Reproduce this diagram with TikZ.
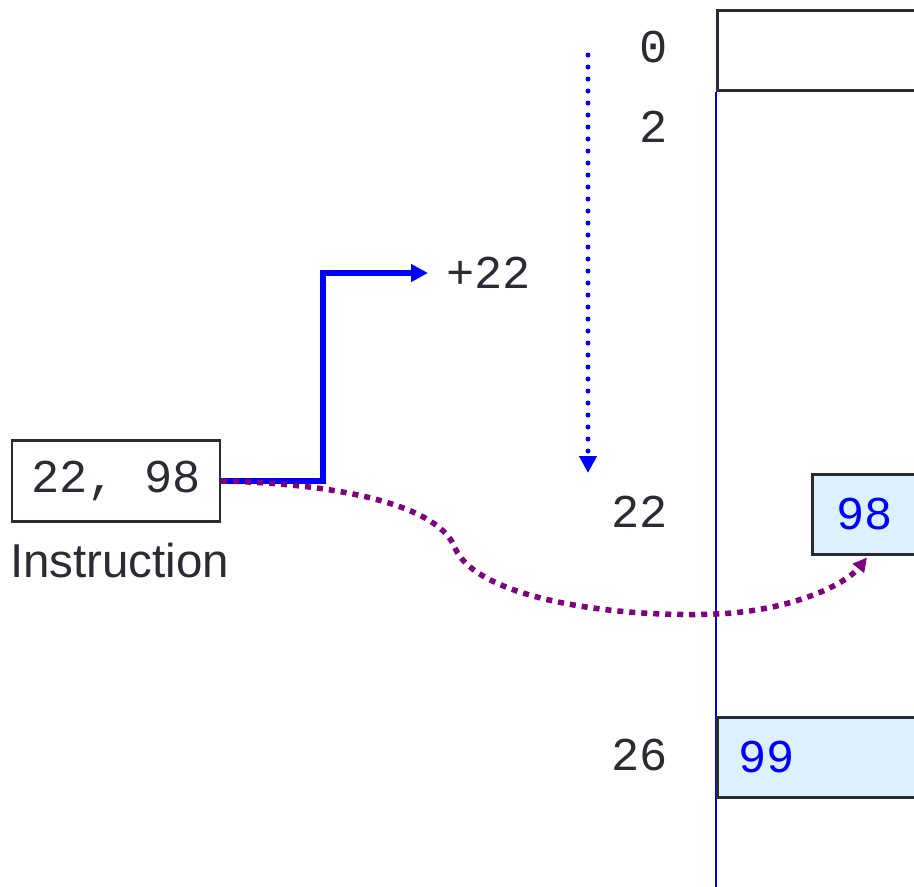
\documentclass[tikz,border=0pt]{standalone}
\usepackage{fontspec}
\setmainfont{Liberation Sans}
\newfontfamily\codefont{Liberation Mono}
\usetikzlibrary{arrows.meta,calc}

\definecolor{ink}{HTML}{2B2B36}
\definecolor{cellfill}{HTML}{DCF0FD}
\definecolor{ptrblue}{HTML}{0000FF}
\definecolor{jump}{HTML}{800080}

\tikzset{
  code/.style={font=\codefont\fontsize{47}{52}\selectfont, text=ink, inner sep=0pt},
  addr/.style={code, anchor=east},
  cell/.style={draw=ink, line width=2.5pt, anchor=north west, minimum height=80pt,
               text width=250pt, align=left, font=\codefont\fontsize{47}{52}\selectfont,
               text=ptrblue, fill=cellfill},
  offsetline/.style={draw=ptrblue, line width=5.5pt,
                     -{Triangle[length=17pt,width=17pt]}},
  scanline/.style={draw=ptrblue, line width=5pt, line cap=round, dash pattern=on 0pt off 12pt,
                   -{Triangle[length=17pt,width=17pt]}},
  fetchline/.style={draw=jump, line width=5.5pt, dash pattern=on 6pt off 6pt,
                    -{Triangle[length=14pt,width=14pt]}}
}

\begin{document}
\begin{tikzpicture}[x=1pt,y=-1pt]
  \useasboundingbox (0,0) rectangle (914,887);
  \clip (0,0) rectangle (914,887);

  % memory column
  \node[cell, fill=white, text width=260pt, inner xsep=0pt] (m0) at (716,9) {};
  \draw[ptrblue, line width=2.5pt] (m0.south west) -- (716,890);
  \node[cell, inner xsep=24pt] (m98) at (811,473) {98};
  \node[cell, inner xsep=21pt] (m99) at (716,716) {99};

  % addresses
  \node[addr] (a0)  at (668,47)  {0};
  \node[addr] (a2)  at (668,127) {2};
  \node[addr] (a22) at (668,512) {22};
  \node[addr] (a26) at (668,755) {26};

  % instruction word
  \node[draw=ink, line width=2.5pt, minimum width=208pt, minimum height=81pt,
        code, inner sep=0pt] (instr) at (116,481) {22, 98};
  \node[anchor=base west, text=ink, font=\fontsize{47.5}{52}\selectfont, inner sep=0pt]
        (lbl) at (10,577) {Instruction};

  % offset taken from the instruction
  \node[code, anchor=west, inner xsep=18pt] (plus) at (428,273) {+22};
  \draw[offsetline] (instr.east) -- (323,481) |- (plus.west);

  % walking down the memory
  \coordinate (scanstart) at (588,55);
  \coordinate (scanend) at (588,473);
  \draw[scanline] (scanstart) -- (scanend);

  % value fetched into the cell
  \coordinate (hit) at ($(m98.south west)+(56,2)$);
  \draw[fetchline] (instr.east) .. controls (350,484) and (440,508) .. (455,548)
        .. controls (478,600) and (620,618) .. (716,614)
        .. controls (790,611) and (845,585) .. (hit);
\end{tikzpicture}
\end{document}
